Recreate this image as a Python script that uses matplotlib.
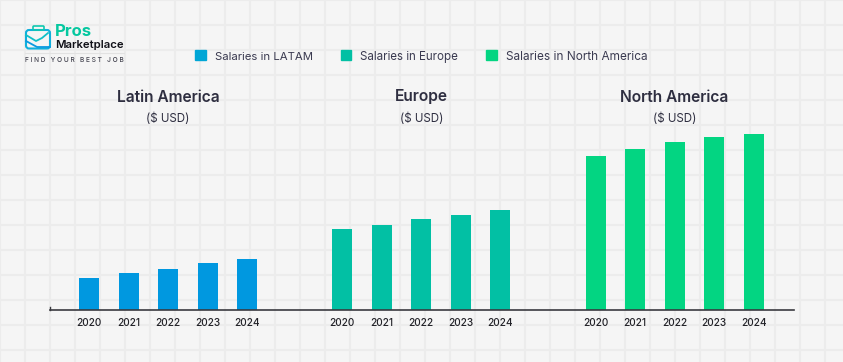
import matplotlib
matplotlib.use('Agg')
import matplotlib.pyplot as plt
from matplotlib.patches import Rectangle, FancyBboxPatch
import numpy as np

years = ['2020', '2021', '2022', '2023', '2024']
latam = [32, 36.5, 41, 47, 51]
europe = [80.5, 84.5, 90.5, 94.5, 99.5]
north_america = [153.5, 160.5, 167.5, 172.5, 175.5]

W, H = 843, 362
plt.rcParams['font.family'] = ['Inter', 'DejaVu Sans']

fig = plt.figure(figsize=(W / 100, H / 100), dpi=100, facecolor='#f5f5f5')
bg = fig.add_axes([0, 0, 1, 1])
bg.set_xlim(0, W)
bg.set_ylim(H, 0)
bg.axis('off')

# background grid
for x in range(0, W, 25):
    bg.axvline(x, color='#ececec', lw=1.5, zorder=0)
for y in range(0, H, 25):
    bg.axhline(y, color='#ececec', lw=1.5, zorder=0)

# baseline
bg.plot([50, 794], [309.5, 309.5], color='#3a3a40', lw=1.2, zorder=3)
bg.plot([50, 50], [306.5, 309.5], color='#3a3a40', lw=1, zorder=3)

dark = '#2e2e40'
panels = [
    (latam, '#0098e0', 'Latin America', 168, 89),
    (europe, '#02c0a4', 'Europe', 421.5, 342),
    (north_america, '#03d582', 'North America', 674.5, 595.5),
]
for vals, col, title, cx, first in panels:
    pos = first + 39.5 * np.arange(len(years))
    bg.bar(pos, vals, width=20, bottom=309.5 - np.array(vals), color=col, zorder=2)
    for p, yr in zip(pos, years):
        bg.text(p, 323, yr, ha='center', va='center', fontsize=7.3, color='#222228', fontweight='medium')
    bg.text(cx, 97, title, ha='center', va='center', fontsize=11.2, fontweight='semibold', color=dark)
    bg.text(cx, 117, '($ USD)', ha='center', va='center_baseline', fontsize=8.3, color=dark)

# legend
legend = [(195, '#00a6d6', 'Salaries in LATAM', 8.2), (340.5, '#02c0a4', 'Salaries in Europe', 8.3), (486, '#03d582', 'Salaries in North America', 8.5)]
for x, col, label, size in legend:
    bg.add_patch(Rectangle((x, 50), 10.5, 10, color=col, zorder=2))
    bg.text(x + 20, 60, label, ha='left', va='baseline', fontsize=size, color='#3a3a50')

# logo: briefcase with chart arrow
bg.add_patch(FancyBboxPatch((26, 30), 24, 18.5, boxstyle='round,pad=0,rounding_size=3', fc='none', ec='#0fb0dc', lw=1.5, zorder=3))
bg.add_patch(FancyBboxPatch((33, 26), 11, 4, boxstyle='round,pad=0,rounding_size=1', fc='none', ec='#10c8b0', lw=1.2, zorder=3))
bg.plot([26, 36, 42, 48], [35, 41, 38, 33], color='#0fc0c8', lw=1.3, zorder=3)
bg.plot([26, 37, 50], [41, 47, 47], color='#0a9ae0', lw=1.3, zorder=3)
bg.text(55, 36, 'Pros', ha='left', va='baseline', fontsize=12, fontweight='bold', color='#05c8a0')
bg.text(55, 48.5, 'Marketplace', ha='left', va='baseline', fontsize=8.2, fontweight='semibold', color='#111118')
bg.plot([25, 124], [52.5, 52.5], color='#e2e2e2', lw=0.8)
bg.text(25, 60.5, 'F I N D   Y O U R   B E S T   J O B', ha='left', va='center', fontsize=4.75, color='#444450', fontweight='medium')

fig.savefig('out.png', dpi=100, facecolor=fig.get_facecolor())
